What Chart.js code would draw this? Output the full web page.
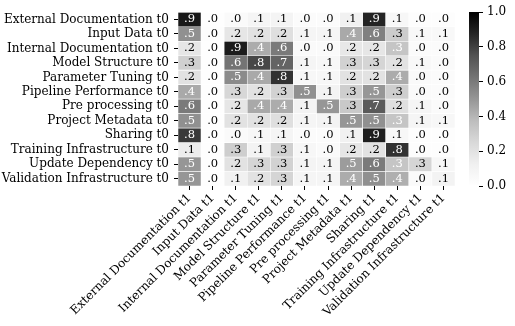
<!DOCTYPE html>
<html>
<head>
<meta charset="utf-8">
<script src="https://cdn.jsdelivr.net/npm/chart.js@4"></script>
<style>
  body { margin: 0; background: #fff; }
  #wrap { position: relative; width: 515px; height: 326px; }
  #cb { position: absolute; left: 460px; top: 0; }
</style>
</head>
<body>
<div id="wrap">
  <canvas id="heat" width="515" height="326"></canvas>
  <canvas id="cb" width="55" height="326"></canvas>
</div>
<script>
const categories = ['External Documentation', 'Input Data', 'Internal Documentation', 'Model Structure',
  'Parameter Tuning', 'Pipeline Performance', 'Pre processing', 'Project Metadata', 'Sharing',
  'Training Infrastructure', 'Update Dependency', 'Validation Infrastructure'];
const rowLabels = categories.map(c => c + ' t0');
const colLabels = categories.map(c => c + ' t1');

// one array per row (t0), columns in t1 order
const extDoc      = [0.92, 0.01, 0.04, 0.08, 0.09, 0.03, 0.03, 0.12, 0.88, 0.07, 0.02, 0.02];
const inputData   = [0.52, 0.02, 0.18, 0.20, 0.22, 0.08, 0.08, 0.44, 0.58, 0.31, 0.06, 0.06];
const intDoc      = [0.18, 0.01, 0.91, 0.43, 0.60, 0.04, 0.04, 0.17, 0.18, 0.34, 0.03, 0.03];
const modelStruct = [0.29, 0.01, 0.62, 0.78, 0.68, 0.08, 0.07, 0.28, 0.27, 0.20, 0.06, 0.04];
const paramTuning = [0.20, 0.01, 0.54, 0.44, 0.84, 0.07, 0.07, 0.20, 0.20, 0.43, 0.04, 0.03];
const pipePerf    = [0.44, 0.01, 0.26, 0.20, 0.28, 0.52, 0.10, 0.30, 0.50, 0.30, 0.04, 0.03];
const preProc     = [0.60, 0.01, 0.18, 0.44, 0.43, 0.10, 0.50, 0.32, 0.72, 0.22, 0.08, 0.04];
const projMeta    = [0.52, 0.01, 0.20, 0.20, 0.22, 0.08, 0.10, 0.50, 0.52, 0.34, 0.08, 0.07];
const sharing     = [0.82, 0.01, 0.04, 0.07, 0.08, 0.03, 0.03, 0.12, 0.90, 0.07, 0.02, 0.02];
const trainInfra  = [0.14, 0.01, 0.30, 0.10, 0.29, 0.07, 0.04, 0.18, 0.20, 0.84, 0.02, 0.02];
const updateDep   = [0.50, 0.01, 0.20, 0.27, 0.28, 0.09, 0.08, 0.48, 0.60, 0.34, 0.27, 0.07];
const valInfra    = [0.50, 0.01, 0.12, 0.20, 0.27, 0.08, 0.08, 0.43, 0.52, 0.42, 0.04, 0.10];
const matrix = [extDoc, inputData, intDoc, modelStruct, paramTuning, pipePerf,
  preProc, projMeta, sharing, trainInfra, updateDep, valInfra];
const cbTicks = [0, 0.2, 0.4, 0.6, 0.8, 1.0];

// matplotlib Greys
const greys = [255, 240, 217, 189, 150, 115, 82, 37, 0];
function grey(v) {
  v = Math.max(0, Math.min(1, v));
  const p = v * 8, i = Math.min(7, Math.floor(p)), f = p - i;
  const g = Math.round(greys[i] + (greys[i + 1] - greys[i]) * f);
  return `rgb(${g},${g},${g})`;
}
const FAMILY = "'DejaVu Serif', 'Liberation Serif', serif";
const font = { family: FAMILY, size: 12 };
Chart.defaults.color = '#000';
Chart.defaults.font.family = FAMILY;

const tickGrid = { drawOnChartArea: false, drawTicks: true, tickLength: 4, color: '#000', offset: false };

const annotate = {
  id: 'annotate',
  afterDatasetsDraw(chart) {
    const ctx = chart.ctx;
    ctx.save();
    ctx.font = '11.5px ' + FAMILY;
    ctx.textAlign = 'center';
    ctx.textBaseline = 'middle';
    chart.data.datasets.forEach((ds, r) => {
      chart.getDatasetMeta(r).data.forEach((el, c) => {
        const v = matrix[r][c];
        ctx.fillStyle = v > 0.335 ? '#fff' : '#000';
        ctx.fillText(v.toFixed(1).replace(/^0/, ''), el.x, (el.y + el.base) / 2);
      });
    });
    ctx.restore();
  }
};

new Chart(document.getElementById('heat'), {
  type: 'bar',
  data: {
    labels: colLabels,
    datasets: matrix.map((row, r) => ({
      label: rowLabels[r],
      data: row.map(() => 1),
      backgroundColor: row.map(grey),
      borderColor: '#fff',
      borderWidth: 0.6,
      borderSkipped: false,
      barPercentage: 1,
      categoryPercentage: 1
    }))
  },
  options: {
    responsive: false,
    animation: false,
    layout: { padding: { top: 12, right: 60, left: 0, bottom: 0 } },
    plugins: { legend: { display: false }, tooltip: { enabled: false } },
    scales: {
      x: {
        type: 'category',
        stacked: true,
        offset: true,
        grid: tickGrid,
        border: { display: false },
        ticks: { font, autoSkip: false, minRotation: 45, maxRotation: 45, padding: 1 },
        afterFit(s) { s.height = 140; }
      },
      y: { type: 'linear', stacked: true, reverse: true, min: 0, max: 12, display: false },
      rows: {
        type: 'category',
        labels: rowLabels,
        position: 'left',
        offset: true,
        grid: tickGrid,
        border: { display: false },
        ticks: { font, autoSkip: false, padding: 5 },
        afterFit(s) { s.width = 178; }
      }
    }
  },
  plugins: [annotate]
});

// colour bar
new Chart(document.getElementById('cb'), {
  type: 'bar',
  data: {
    labels: [''],
    datasets: [{
      data: [[0, 1]],
      borderWidth: 0,
      barPercentage: 1,
      categoryPercentage: 1,
      backgroundColor(ctx) {
        const a = ctx.chart.chartArea;
        if (!a) return '#888';
        const g = ctx.chart.ctx.createLinearGradient(0, a.bottom, 0, a.top);
        greys.forEach((v, i) => g.addColorStop(i / 8, `rgb(${v},${v},${v})`));
        return g;
      }
    }]
  },
  options: {
    responsive: false,
    animation: false,
    layout: { padding: { top: 12, bottom: 140, left: 9, right: 0 } },
    plugins: { legend: { display: false }, tooltip: { enabled: false } },
    scales: {
      x: { display: false },
      y: {
        position: 'right',
        min: 0, max: 1,
        afterBuildTicks(s) { s.ticks = cbTicks.map(v => ({ value: v })); },
        grid: { drawOnChartArea: false, drawTicks: true, tickLength: 4, color: '#000' },
        border: { display: false },
        ticks: { font, padding: 4, callback: v => v.toFixed(1) },
        afterFit(s) { s.width = 36; }
      }
    }
  }
});
</script>
</body>
</html>
